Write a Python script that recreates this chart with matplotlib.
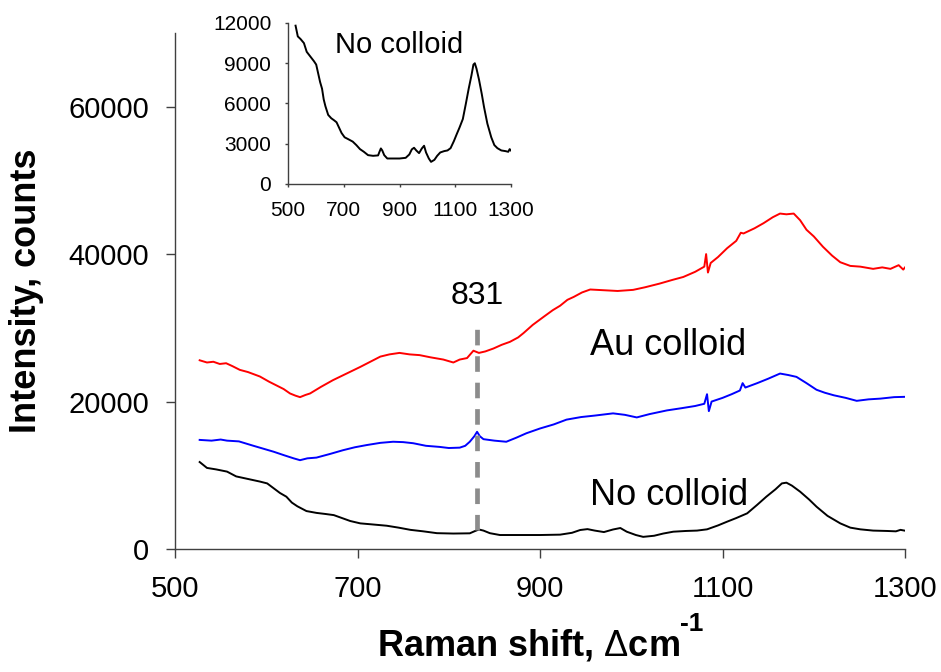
import matplotlib
matplotlib.use("Agg")
import matplotlib.pyplot as plt

plt.rcParams["font.family"] = ["Liberation Sans", "DejaVu Sans"]
plt.rcParams["mathtext.fontset"] = "custom"
plt.rcParams["mathtext.rm"] = "Liberation Sans"
plt.rcParams["mathtext.bf"] = "Liberation Sans:bold"

# Raman spectra (shift in cm-1, intensity in counts)
no_colloid_x = [527, 535, 545, 557, 567, 580, 593, 601, 608, 615, 622, 628, 634, 644, 655,
                665, 674, 683, 692, 703, 715, 732, 745, 758, 772, 787, 805, 823, 828, 833,
                838, 845, 856, 875, 900, 922, 935, 944, 952, 960, 970, 980, 988, 995, 1005,
                1013, 1025, 1035, 1046, 1060, 1072, 1083, 1095, 1105, 1115, 1127, 1138, 1148,
                1158, 1165, 1170, 1176, 1185, 1195, 1203, 1215, 1229, 1240, 1251, 1265, 1280,
                1290, 1295, 1302]
no_colloid_y = [11800, 11000, 10800, 10500, 9850, 9500, 9150, 8900, 8250, 7600, 7100, 6300,
                5800, 5150, 4900, 4750, 4600, 4200, 3800, 3480, 3350, 3160, 2900, 2600, 2400,
                2150, 2100, 2130, 2400, 2650, 2500, 2150, 1900, 1900, 1900, 1950, 2200, 2580,
                2700, 2500, 2300, 2650, 2850, 2350, 1900, 1650, 1800, 2100, 2350, 2450, 2500,
                2670, 3200, 3710, 4200, 4840, 6000, 7100, 8100, 8900, 9000, 8600, 7780, 6700,
                5740, 4500, 3480, 2900, 2670, 2500, 2450, 2400, 2600, 2440]

au_red_x = [527, 535, 542, 549, 556, 563, 571, 580, 593, 603, 611, 619, 626, 632, 637, 643,
            648, 660, 673, 688, 703, 714, 725, 735, 746, 757, 768, 780, 794, 805, 812, 820,
            827, 833, 840, 849, 858, 867, 876, 882, 892, 904, 914, 922, 930, 937, 946, 955,
            970, 985, 1002, 1015, 1031, 1045, 1057, 1070, 1080, 1082, 1084, 1087, 1095, 1105,
            1115, 1120, 1123, 1135, 1145, 1155, 1163, 1170, 1178, 1185, 1192, 1200, 1210,
            1220, 1229, 1240, 1251, 1265, 1275, 1284, 1293, 1298, 1302]
au_red_y = [25600, 25300, 25400, 25100, 25200, 24800, 24300, 24000, 23400, 22700, 22200,
            21700, 21100, 20800, 20600, 20900, 21100, 22000, 22900, 23800, 24700, 25400,
            26100, 26400, 26600, 26400, 26300, 26000, 25700, 25300, 25700, 25900, 26900,
            26600, 26800, 27200, 27700, 28100, 28700, 29300, 30400, 31500, 32400, 33000,
            33800, 34200, 34800, 35200, 35100, 35000, 35150, 35500, 36000, 36500, 36900,
            37600, 38300, 40000, 37500, 38800, 39600, 40800, 41800, 42900, 42800, 43500,
            44200, 45000, 45500, 45400, 45500, 44600, 43300, 42400, 41000, 39800, 38900,
            38400, 38300, 38000, 38200, 38000, 38500, 37900, 38500]

au_blue_x = [527, 540, 550, 557, 570, 586, 597, 608, 620, 630, 637, 645, 655, 670, 684, 697,
             710, 725, 739, 750, 761, 775, 790, 800, 812, 818, 823, 828, 831, 834, 838, 850,
             863, 874, 885, 900, 915, 929, 945, 960, 980, 993, 1006, 1020, 1039, 1055, 1070,
             1080, 1083, 1085, 1088, 1100, 1110, 1119, 1122, 1125, 1138, 1150, 1163, 1172,
             1181, 1192, 1203, 1212, 1222, 1235, 1247, 1260, 1273, 1288, 1302]
au_blue_y = [14800, 14700, 14850, 14700, 14600, 14000, 13600, 13200, 12700, 12300, 12050,
             12300, 12400, 12900, 13400, 13800, 14100, 14400, 14550, 14500, 14350, 14000,
             13850, 13700, 13750, 14000, 14550, 15300, 15900, 15300, 14900, 14700, 14550,
             15100, 15700, 16350, 16900, 17550, 17900, 18100, 18400, 18200, 17850, 18300,
             18800, 19100, 19400, 19700, 21000, 18700, 20000, 20500, 21000, 21500, 22500,
             21900, 22500, 23100, 23800, 23600, 23350, 22500, 21600, 21200, 20850, 20500,
             20100, 20300, 20400, 20600, 20650]

marker_shift = 831
main_xticks = [500, 700, 900, 1100, 1300]
main_yticks = [0, 20000, 40000, 60000]
inset_yticks = [0, 3000, 6000, 9000, 12000]

fig = plt.figure(figsize=(9.41, 6.72), dpi=100)
ax = fig.add_axes([0.186, 0.183, 0.7758, 0.768])

ax.plot(au_red_x, au_red_y, color="#ff0000", lw=1.4)
ax.plot(au_blue_x, au_blue_y, color="#0000ff", lw=1.4)
ax.plot(no_colloid_x, no_colloid_y, color="black", lw=1.4)
ax.plot([marker_shift, marker_shift], [2600, 31200], color="#8c8c8c", lw=3.4,
        dashes=(3.3, 2.3), solid_capstyle="butt", dash_capstyle="butt")

ax.text(marker_shift, 33200, "831", fontsize=23, ha="center", va="baseline")
ax.text(955, 26300, "Au colloid", fontsize=26, ha="left", va="baseline")
ax.text(955, 5970, "No colloid", fontsize=26, ha="left", va="baseline")

ax.set_xlim(500, 1300)
ax.set_ylim(0, 70000)
ax.set_xticks(main_xticks)
ax.set_yticks(main_yticks)
ax.spines["top"].set_visible(False)
ax.spines["right"].set_visible(False)
for s in ("left", "bottom"):
    ax.spines[s].set_color("#404040")
    ax.spines[s].set_linewidth(1.0)
ax.tick_params(direction="out", length=6.5, width=1.0, color="#404040",
               labelsize=21, pad=12)
ax.set_xlabel(r"Raman shift, $\Delta$cm", fontsize=26, fontweight="bold")
ax.set_ylabel("Intensity, counts", fontsize=26, fontweight="bold")
ax.xaxis.set_label_coords(0.484, -0.153)
ax.yaxis.set_label_coords(-0.18, 0.5)
# superscript -1 with a plain hyphen, hung off the label's top-right corner
ax.annotate("-1", xy=(1, 1), xycoords=ax.xaxis.label, xytext=(0, -6),
            textcoords="offset points", fontsize=19, fontweight="bold",
            ha="left", va="bottom")

# inset: the colloid-free spectrum on its own scale
ins = fig.add_axes([0.3061, 0.7262, 0.237, 0.2396])
ins.patch.set_alpha(0)
ins.plot(no_colloid_x, no_colloid_y, color="black", lw=1.4)
ins.text(668, 9740, "No colloid", fontsize=21, ha="left", va="baseline")
ins.set_xlim(500, 1300)
ins.set_ylim(0, 12000)
ins.set_xticks(main_xticks)
ins.set_yticks(inset_yticks)
ins.spines["top"].set_visible(False)
ins.spines["right"].set_visible(False)
for s in ("left", "bottom"):
    ins.spines[s].set_color("#404040")
    ins.spines[s].set_linewidth(1.0)
ins.tick_params(direction="out", length=2, width=1.0, color="#404040",
                labelsize=15, pad=10)

fig.savefig("out.png", dpi=100)
